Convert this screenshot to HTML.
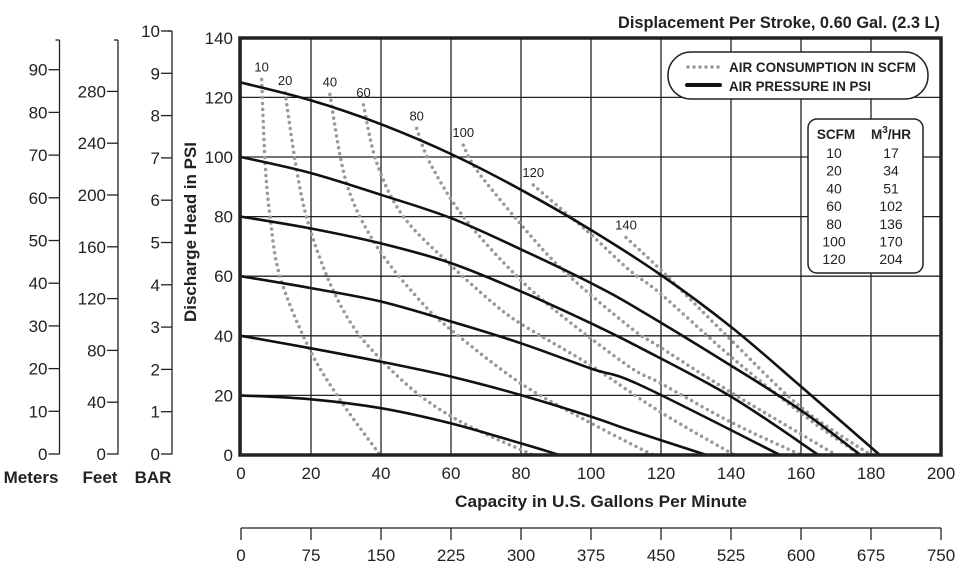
<!DOCTYPE html>
<html><head><meta charset="utf-8"><style>
html,body{margin:0;padding:0;background:#fff;}
svg{display:block;font-family:"Liberation Sans",sans-serif;}
</style></head><body>
<svg id="chart" width="960" height="569" viewBox="0 0 960 569">
<text x="940" y="28" text-anchor="end" font-size="17" font-weight="bold" fill="#222" textLength="322" lengthAdjust="spacingAndGlyphs">Displacement Per Stroke, 0.60 Gal. (2.3 L)</text>
<g id="grid"></g>
<g id="curves"></g>
<g id="axes"></g>
<rect x="240" y="38" width="701" height="417" fill="none" stroke="#222" stroke-width="3.5"/>
<g>
<rect x="668" y="52" width="260" height="47" rx="23" fill="#fff" stroke="#222" stroke-width="1.5"/>
<line x1="688" y1="67" x2="720" y2="67" stroke="#999" stroke-width="3.5" stroke-linecap="round" stroke-dasharray="0 6"/>
<text x="729" y="72" font-size="14" font-weight="bold" fill="#222" textLength="187" lengthAdjust="spacingAndGlyphs">AIR CONSUMPTION IN SCFM</text>
<line x1="687" y1="85" x2="720" y2="85" stroke="#111" stroke-width="4" stroke-linecap="round"/>
<text x="729" y="91" font-size="14" font-weight="bold" fill="#222" textLength="142" lengthAdjust="spacingAndGlyphs">AIR PRESSURE IN PSI</text>
</g>
<g id="conv">
<rect x="808" y="119" width="115" height="154" rx="9" fill="#fff" stroke="#222" stroke-width="1.5"/>
<text x="836" y="139" text-anchor="middle" font-size="13.5" font-weight="bold" fill="#222">SCFM</text>
<text x="891" y="139" text-anchor="middle" font-size="13.5" font-weight="bold" fill="#222">M<tspan dy="-6" font-size="10">3</tspan><tspan dy="6">/HR</tspan></text>
</g>
<text transform="translate(196,232) rotate(-90)" text-anchor="middle" font-size="17" font-weight="bold" fill="#222" textLength="180" lengthAdjust="spacingAndGlyphs">Discharge Head in PSI</text>
<text x="601" y="507" text-anchor="middle" font-size="17" font-weight="bold" fill="#222" textLength="292" lengthAdjust="spacingAndGlyphs">Capacity in U.S. Gallons Per Minute</text>
<text x="31" y="483" text-anchor="middle" font-size="17" font-weight="bold" fill="#222">Meters</text>
<text x="100" y="483" text-anchor="middle" font-size="17" font-weight="bold" fill="#222">Feet</text>
<text x="153" y="483" text-anchor="middle" font-size="17" font-weight="bold" fill="#222">BAR</text>
</svg>
<script>
const gpmTicks=[0,20,40,60,80,100,120,140,160,180,200];
const psiTicks=[0,20,40,60,80,100,120,140];
const meterTicks=[0,10,20,30,40,50,60,70,80,90];
const feetTicks=[0,40,80,120,160,200,240,280];
const barTicks=[0,1,2,3,4,5,6,7,8,9,10];
const literTicks=[0,75,150,225,300,375,450,525,600,675,750];
const pressureLabels=["125","100","80","60","40","20"];
const pressureGpm=[
[0,20,40,60,80,100,120,140,160,182.5],
[0,20,40,60,80,100,114,140,160,177],
[0,20,40,60,80,100,114,140,165],
[0,20,40,60,80,100,114,154],
[0,20,40,60,80,100,111,133],
[0,20,40,60,80,91]];
const pressurePsi=[
[125,119,111,101,89,75.5,60.4,43,23,0],
[100,94.6,87.3,79.5,69,57.7,48.6,30,15,0],
[80,76,71,64.4,54.9,44.2,36,19.6,0],
[60,56,51.5,44.8,37.5,29,23.5,0],
[40,35.8,31.3,26.3,20.1,12.9,8.4,0],
[20,18.7,15.7,10.6,3.9,0]];
const airLabels=["10","20","40","60","80","100","120","140"];
const airGpm=[
[5.9,6.9,8.3,11.1,19.2,28.3,39.7],
[12.6,15.9,19.2,25.4,32.1,40,50,60,70,83.4],
[25.4,30.2,38.8,51,60,80,100,117.7],
[35,38.8,46.4,59.7,71,80,100,120,141],
[50.2,54,63.5,78.8,92,111,120,140,160],
[63.5,67.3,78.8,92,111,120,140,160,170],
[83.5,92,100,111,120,140,160,177],
[110,120,140,160,180]];
const airPsi=[
[126,98,80,60,36.4,18.5,0],
[121.5,95.7,77.8,57.7,43,32,21,13,7,0],
[121,91,70,52,42,24,10.7,0],
[117.5,98,80,64,52,44,30,14.3,0],
[109.6,98,80,60,46.4,29.6,24,11,0],
[104,95.7,79,62,43,36,21,7,0],
[90.6,82,74,62,54,33,14,0],
[73,62,38.6,16,0]];
const conversionScfm=["10","20","40","60","80","100","120"];
const conversionM3=["17","34","51","102","136","170","204"];

const NS="http://www.w3.org/2000/svg";
const X=g=>241+g*3.5;
const Y=p=>455-p*2.98;
const feetY=f=>454-f*(51.8/40);
const meterY=m=>454-m*4.27;
const barY=b=>454-b*42.3;
function mk(tag,attrs,parent,txt){const e=document.createElementNS(NS,tag);for(const k in attrs)e.setAttribute(k,attrs[k]);if(txt!==undefined)e.textContent=txt;parent.appendChild(e);return e;}
function smooth(pts){let d="M"+pts[0][0].toFixed(1)+","+pts[0][1].toFixed(1);for(let i=0;i<pts.length-1;i++){const p0=pts[i-1]||pts[i],p1=pts[i],p2=pts[i+1],p3=pts[i+2]||p2;const c1=[p1[0]+(p2[0]-p0[0])/6,p1[1]+(p2[1]-p0[1])/6],c2=[p2[0]-(p3[0]-p1[0])/6,p2[1]-(p3[1]-p1[1])/6];d+="C"+c1.map(v=>v.toFixed(1))+" "+c2.map(v=>v.toFixed(1))+" "+p2[0].toFixed(1)+","+p2[1].toFixed(1);}return d;}
const grid=document.getElementById('grid'),curves=document.getElementById('curves'),axes=document.getElementById('axes'),conv=document.getElementById('conv');
gpmTicks.forEach(g=>{
 const l=mk('line',{x1:X(g),x2:X(g),y1:38,y2:455,stroke:'#222','stroke-width':1.3},grid);
 
 
 const t=mk('text',{x:X(g),y:479,'text-anchor':'middle','font-size':17,fill:'#222'},axes,String(g));
 
 
});
psiTicks.forEach(p=>{
 const l=mk('line',{x1:240,x2:941,y1:Y(p),y2:Y(p),stroke:'#222','stroke-width':1.3},grid);
 
 
 const t=mk('text',{x:233,y:Y(p)+6,'text-anchor':'end','font-size':17,fill:'#222'},axes,String(p));
 
 
});
function sideAxis(name,x,top,ticks,fy){
 const a=mk('line',{x1:x,x2:x,y1:top,y2:454.5,stroke:'#222','stroke-width':1.3},axes);
 
 
 mk('line',{x1:x-4,x2:x,y1:top,y2:top,stroke:'#222','stroke-width':1.3},axes);
 ticks.forEach(v=>{
  const y=fy(v);
  mk('line',{x1:x-11,x2:x,y1:y,y2:y,stroke:'#222','stroke-width':1.3},axes);
  const t=mk('text',{x:x-12,y:y+6,'text-anchor':'end','font-size':17,fill:'#222'},axes,String(v));
  
  
 });
}
sideAxis('meters',59.5,40,meterTicks,meterY);
sideAxis('feet',118,40,feetTicks,feetY);
sideAxis('bar',172,31,barTicks,barY);
const la=mk('line',{x1:241,x2:941,y1:528,y2:528,stroke:'#222','stroke-width':1.3},axes);


literTicks.forEach((v,i)=>{
 const x=241+i*70;
 mk('line',{x1:x,x2:x,y1:528,y2:540,stroke:'#222','stroke-width':1.3},axes);
 const t=mk('text',{x:x,y:561,'text-anchor':'middle','font-size':17,fill:'#222'},axes,String(v));
 
 
});
airGpm.forEach((gs,i)=>{
 const pts=gs.map((g,j)=>[X(g),Y(airPsi[i][j])]);
 const p=mk('path',{d:smooth(pts),fill:'none',stroke:'#999','stroke-width':3.5,'stroke-linecap':'round','stroke-dasharray':'0 6'},curves);
 
 
 const t=mk('text',{x:pts[0][0],y:pts[0][1]-8,'text-anchor':'middle','font-size':13,fill:'#222'},curves,airLabels[i]);
 
 
});
pressureGpm.forEach((gs,i)=>{
 const pts=gs.map((g,j)=>[X(g),Y(pressurePsi[i][j])]);
 const p=mk('path',{d:smooth(pts),fill:'none',stroke:'#111','stroke-width':2.6},curves);
 
 
});
conversionScfm.forEach((s,i)=>{
 const y=158+i*17.7;
 const a=mk('text',{x:834,y:y,'text-anchor':'middle','font-size':14,fill:'#222'},conv,s);
 
 
 const b=mk('text',{x:891,y:y,'text-anchor':'middle','font-size':14,fill:'#222'},conv,conversionM3[i]);
 
 
});
</script>
</body></html>
